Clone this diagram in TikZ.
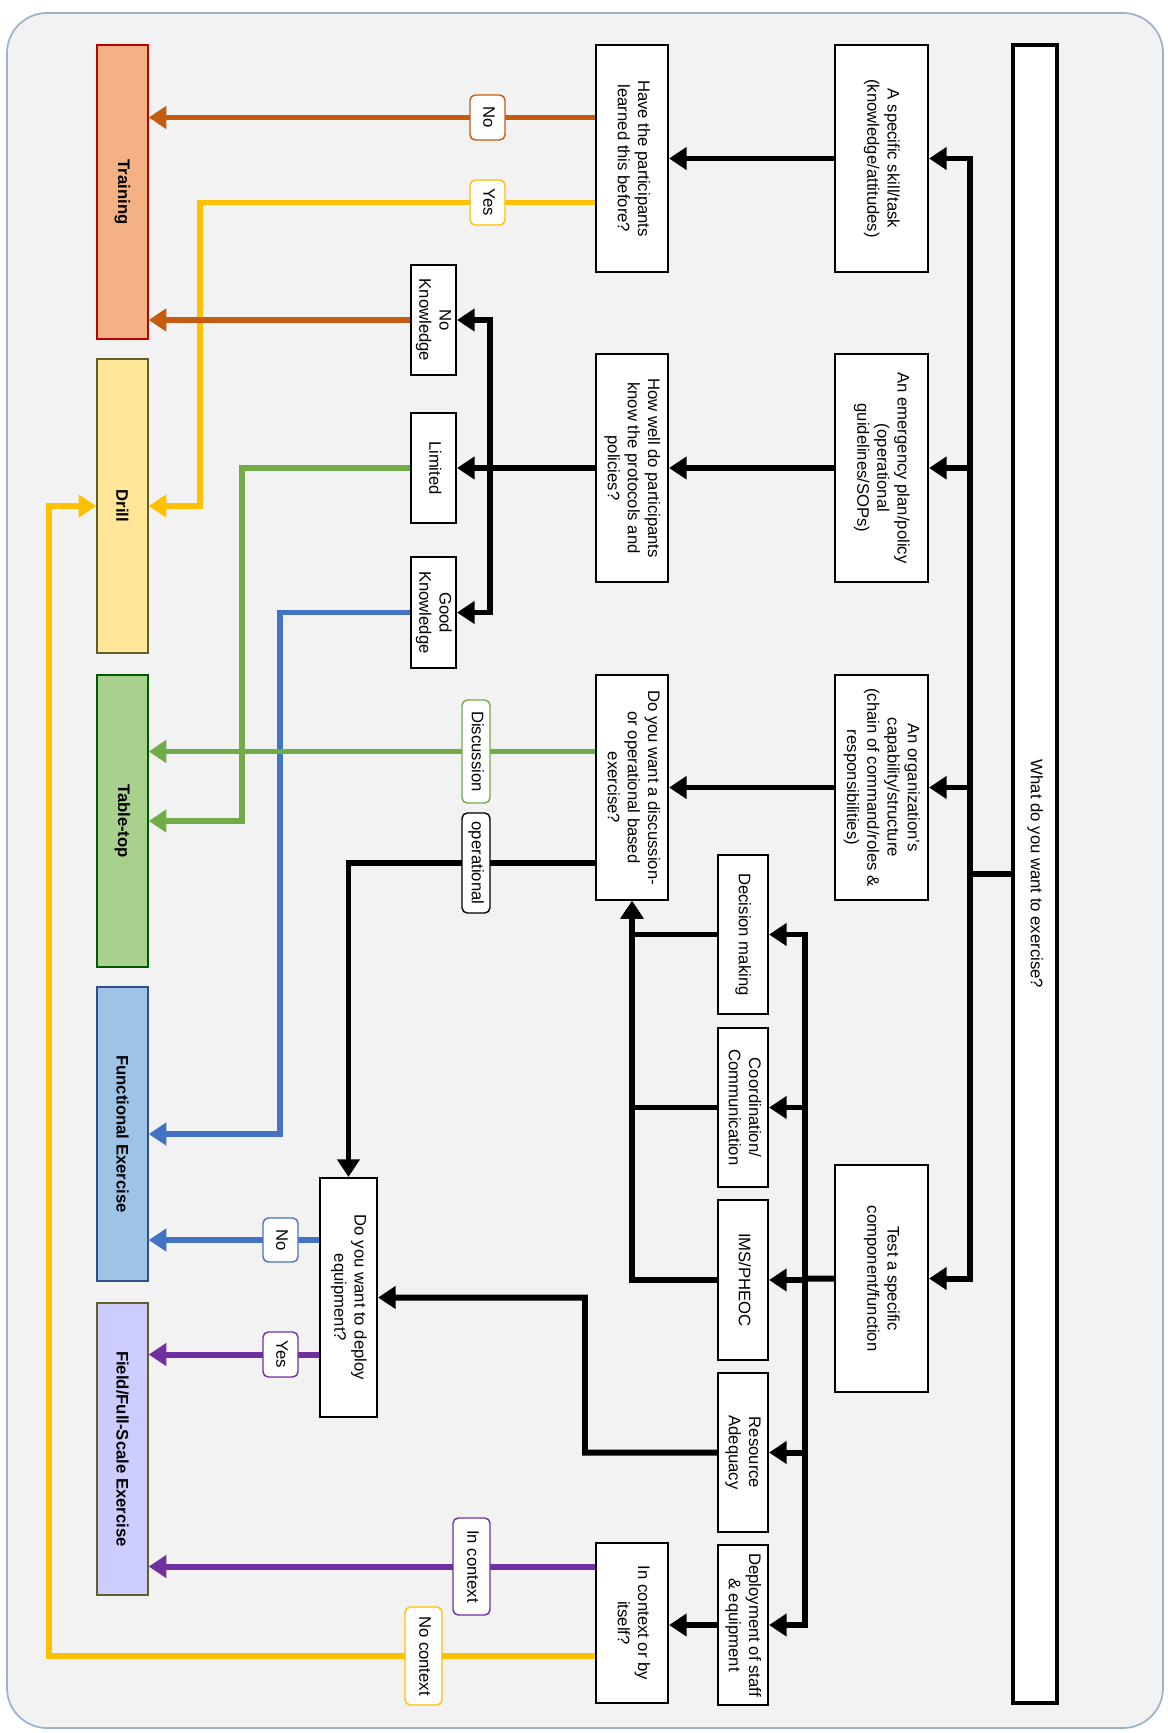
\documentclass[tikz,border=0pt]{standalone}
\usepackage{fontspec}
\setmainfont{Liberation Sans}
\usetikzlibrary{arrows.meta,fit}

\pgfdeclarelayer{back}
\pgfsetlayers{back,main}

\definecolor{frameblue}{HTML}{9DB3CC}
\definecolor{framefill}{HTML}{F2F2F2}
\definecolor{tbrown}{HTML}{C55A11}
\definecolor{tgold}{HTML}{FFC000}
\definecolor{tgreen}{HTML}{70AD47}
\definecolor{tblue}{HTML}{4472C4}
\definecolor{tpurple}{HTML}{7030A0}
\definecolor{trainfill}{HTML}{F4B183}
\definecolor{drillfill}{HTML}{FFE699}
\definecolor{tablefill}{HTML}{A9D18E}
\definecolor{funcfill}{HTML}{9DC3E6}
\definecolor{fieldfill}{HTML}{CCCCFF}

\newcommand{\vtext}[1]{\rotatebox{-90}{\begin{tabular}{@{}c@{}}#1\end{tabular}}}

\tikzset{
  outerframe/.style={draw=frameblue, fill=framefill, line width=1pt, rounded corners=0.8cm},
  box/.style={draw=black, fill=white, line width=1.2pt, inner sep=0pt,
    font=\fontsize{9.5}{11.5}\selectfont},
  outcome/.style 2 args={draw=#1, fill=#2, line width=0.8pt, inner sep=0pt,
    font=\fontsize{9.5}{11.5}\selectfont\bfseries},
  tag/.style={draw=#1, fill=white, rounded corners=3pt, line width=0.8pt, inner sep=0pt,
    font=\fontsize{9.5}{11.5}\selectfont},
  flow/.style={draw=#1, line width=3.4pt},
  flow/.default=black,
  flowarrow/.style={flow=#1, -{Triangle[length=10pt,width=12.5pt]}},
  flowarrow/.default=black,
}

\begin{document}
\begin{tikzpicture}[x=0.02cm, y=-0.02cm]
  \useasboundingbox (0,0) rectangle (1168,1733);

  % question
  \node[box, line width=2.2pt, fit={(1013,45) (1057,1703)}] (root) {\vtext{What do you want to exercise?}};

  % what is exercised
  \node[box, fit={(835,45) (928,272)}] (skill) {\vtext{A specific skill/task\\(knowledge/attitudes)}};
  \node[box, fit={(835,354) (928,582)}] (plan) {\vtext{An emergency plan/policy\\(operational\\guidelines/SOPs)}};
  \node[box, fit={(835,675) (928,900)}] (org) {\vtext{An organization's\\capability/structure\\(chain of command/roles \&\\responsibilities)}};
  \node[box, fit={(835,1165) (928,1392)}] (test) {\vtext{Test a specific\\component/function}};

  \node[box, fit={(718,855) (768,1014)}] (decision) {\vtext{Decision making}};
  \node[box, fit={(718,1028) (768,1187)}] (coord) {\vtext{Coordination/\\Communication}};
  \node[box, fit={(718,1200) (768,1360)}] (ims) {\vtext{IMS/PHEOC}};
  \node[box, fit={(718,1373) (768,1532)}] (resource) {\vtext{Resource\\Adequacy}};
  \node[box, fit={(718,1545) (768,1705)}] (staff) {\vtext{Deployment of staff\\\& equipment}};

  % follow-up questions
  \node[box, fit={(596,45) (668,272)}] (learned) {\vtext{Have the participants\\learned this before?}};
  \node[box, fit={(596,354) (668,582)}] (howwell) {\vtext{How well do participants\\know the protocols and\\policies?}};
  \node[box, fit={(596,675) (668,900)}] (discuss) {\vtext{Do you want a discussion-\\or operational based\\exercise?}};
  \node[box, fit={(596,1543) (668,1703)}] (context) {\vtext{In context or by\\itself?}};

  \node[box, fit={(411,265) (456,375)}] (noknow) {\vtext{No\\Knowledge}};
  \node[box, fit={(411,413) (456,523)}] (limited) {\vtext{Limited}};
  \node[box, fit={(411,557) (456,668)}] (goodknow) {\vtext{Good\\Knowledge}};

  \node[box, fit={(320,1178) (377,1417)}] (deploy) {\vtext{Do you want to deploy\\equipment?}};

  % exercise types
  \node[outcome={red!75!black}{trainfill}, fit={(97,45) (148,339)}] (training) {\rotatebox{-90}{Training}};
  \node[outcome={olive!60!black}{drillfill}, fit={(97,359) (148,653)}] (drill) {\rotatebox{-90}{Drill}};
  \node[outcome={green!35!black}{tablefill}, fit={(97,675) (148,967)}] (tabletop) {\rotatebox{-90}{Table-top}};
  \node[outcome={tblue!70!black}{funcfill}, fit={(97,987) (148,1281)}] (functional) {\rotatebox{-90}{Functional Exercise}};
  \node[outcome={olive!60!black}{fieldfill}, fit={(97,1303) (148,1595)}] (field) {\rotatebox{-90}{Field/Full-Scale Exercise}};

  % answers
  \node[tag=tbrown, fit={(470,95) (505,140)}] (tno) {\vtext{No}};
  \node[tag=tgold, fit={(470,180) (505,225)}] (tyes) {\vtext{Yes}};
  \node[tag=tgreen, fit={(462,700) (490,803)}] (tdisc) {\vtext{Discussion}};
  \node[tag=black, fit={(462,813) (490,913)}] (tops) {\vtext{operational}};
  \node[tag=tblue, fit={(263,1218) (298,1262)}] (tnotwo) {\vtext{No}};
  \node[tag=tpurple, fit={(263,1332) (298,1377)}] (tyestwo) {\vtext{Yes}};
  \node[tag=tpurple, fit={(453,1518) (490,1615)}] (tin) {\vtext{In context}};
  \node[tag=tgold, fit={(405,1607) (442,1705)}] (tnoctx) {\vtext{No context}};

  \begin{pgfonlayer}{back}
    \draw[outerframe] (7,13) rectangle (1163,1728);

    \coordinate (trunk) at (970,874);
    \draw[flow] (root) -- (trunk);
    \foreach \n in {skill,plan,org,test}
      \draw[flowarrow] (trunk) |- (\n);

    \draw[flowarrow] (skill) -- (learned);
    \draw[flowarrow] (plan) -- (howwell);
    \draw[flowarrow] (org) -- (discuss);

    \coordinate (cbus) at (805,1278.5);
    \draw[flow] (test) -- (cbus);
    \foreach \n in {decision,coord,ims,resource,staff}
      \draw[flowarrow] (cbus) |- (\n);
    \foreach \n in {decision,coord,ims}
      \draw[flowarrow] (\n) -| (discuss);

    \coordinate (rbend) at (585,1297.5);
    \draw[flowarrow] (resource) -| (rbend) -- (deploy);
    \draw[flowarrow] (staff.west) -- (staff.west -| context.east);
    \draw[flowarrow] (discuss.west |- tops) -| (deploy);

    \coordinate (kbus) at (490,468);
    \draw[flow] (howwell) -- (kbus);
    \foreach \n in {noknow,limited,goodknow}
      \draw[flowarrow] (kbus) |- (\n);

    % coloured outcomes
    \draw[flowarrow=tbrown] (learned.west |- tno) -- (training.east |- tno);
    \coordinate (yesturn) at (200,506);
    \draw[flowarrow=tgold] (learned.west |- tyes) -| (yesturn) -- (drill);
    \draw[flowarrow=tbrown] (noknow) -- (noknow -| training.east);
    \coordinate (limturn) at (242,821);
    \draw[flowarrow=tgreen] (limited) -| (limturn) -- (tabletop);
    \coordinate (goodturn) at (280,1134);
    \draw[flowarrow=tblue] (goodknow) -| (goodturn) -- (functional);
    \draw[flowarrow=tgreen] (discuss.west |- tdisc) -- (tabletop.east |- tdisc);
    \draw[flowarrow=tblue] (deploy.west |- tnotwo) -- (functional.east |- tnotwo);
    \draw[flowarrow=tpurple] (deploy.west |- tyestwo) -- (field.east |- tyestwo);
    \draw[flowarrow=tpurple] (context.west |- tin) -- (field.east |- tin);
    \coordinate (ctxturn) at (49,506);
    \draw[flowarrow=tgold] (context.west |- tnoctx) -| (ctxturn) -- (drill);
  \end{pgfonlayer}
\end{tikzpicture}
\end{document}
